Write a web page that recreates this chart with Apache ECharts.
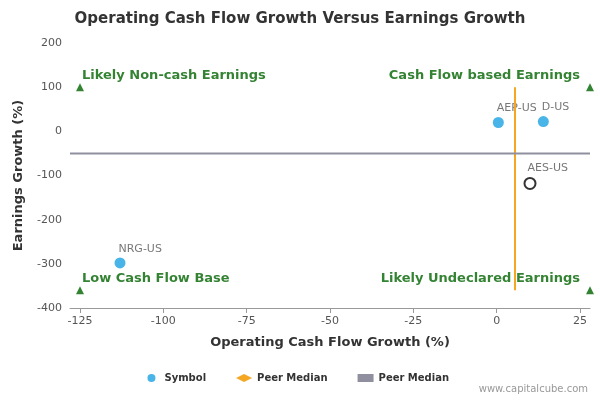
<!DOCTYPE html><html><head><meta charset="utf-8"><script src="https://cdn.jsdelivr.net/npm/echarts@6/dist/echarts.min.js"></script></head><body style="margin:0"><div id="c" style="width:600px;height:400px"></div><script>
const symbols=[["NRG-US",-113,-298],["AEP-US",0.5,20],["D-US",14,22]];
const aes=[["AES-US",10,-118]];
const vMedian=[[5.5,100],[5.5,-360]];
const hMedian=[[-128,-50],[28,-50]];
const corners=[[-125,100,"Likely Non-cash Earnings","left"],[28,100,"Cash Flow based Earnings","right"],[-125,-360,"Low Cash Flow Base","left"],[28,-360,"Likely Undeclared Earnings","right"]];
const xTicks=[-125,-100,-75,-50,-25,0,25];
const ch=echarts.init(document.getElementById('c'));
const F='DejaVu Sans';
ch.setOption({textStyle:{fontFamily:F},
title:{text:'Operating Cash Flow Growth Versus Earnings Growth',left:'center',top:7,textStyle:{fontSize:15,fontWeight:'bold',color:'#333',fontFamily:F}},
graphic:[{type:'text',right:12,bottom:6,style:{text:'www.capitalcube.com',fontSize:10,fill:'#999',fontFamily:F}}],
legend:{bottom:12,itemGap:30,itemWidth:16,itemHeight:8,textStyle:{fontSize:10,fontWeight:'bold',color:'#333'},data:[{name:'Symbol',icon:'circle'},{name:'Peer Median',icon:'diamond'},{name:'Peer Median ',icon:'rect'}]},
grid:{left:70,right:10,top:43,bottom:92},
xAxis:{type:'value',min:-128,max:28,name:'Operating Cash Flow Growth (%)',nameLocation:'middle',nameGap:28,nameTextStyle:{fontSize:13,fontWeight:'bold',color:'#333'},
 axisLabel:{customValues:xTicks,color:'#555',fontSize:11},axisTick:{customValues:xTicks},splitLine:{show:false},axisLine:{onZero:false,lineStyle:{color:'#999'}}},
yAxis:{type:'value',min:-400,max:200,interval:100,name:'Earnings Growth (%)',nameLocation:'middle',nameGap:45,nameTextStyle:{fontSize:13,fontWeight:'bold',color:'#333'},axisLabel:{color:'#555',fontSize:11},axisTick:{show:false},splitLine:{show:false},axisLine:{show:false,onZero:false}},
series:[
{name:'Symbol',type:'scatter',symbolSize:11,itemStyle:{color:'#1ba1e2'},data:symbols.map(d=>({value:[d[1],d[2]],name:d[0]})),label:{show:true,position:[4,-14],formatter:p=>p.name,color:'#555',fontSize:11}},
{name:'Symbol',type:'scatter',symbolSize:11,itemStyle:{color:'#fff',borderColor:'#000',borderWidth:2},data:aes.map(d=>({value:[d[1],d[2]],name:d[0]})),label:{show:true,position:[4,-14],formatter:p=>p.name,color:'#555',fontSize:11}},
{name:'Peer Median',type:'line',data:vMedian,symbol:'none',itemStyle:{color:'#f5a623'},lineStyle:{color:'#f5a623',width:2}},
{name:'Peer Median ',type:'line',data:hMedian,symbol:'none',itemStyle:{color:'#8f8f9f'},lineStyle:{color:'#8f8f9f',width:2}},
{type:'scatter',symbol:'triangle',symbolSize:8,itemStyle:{color:'#006400'},data:corners.map(c=>({value:[c[0],c[1]],label:{show:true,formatter:c[2],position:c[3]=='left'?[6,-14]:[-6,-14],align:c[3]=='left'?'left':'right',color:'#006400',fontSize:13,fontWeight:'bold'}}))}
]});
</script></body></html>
